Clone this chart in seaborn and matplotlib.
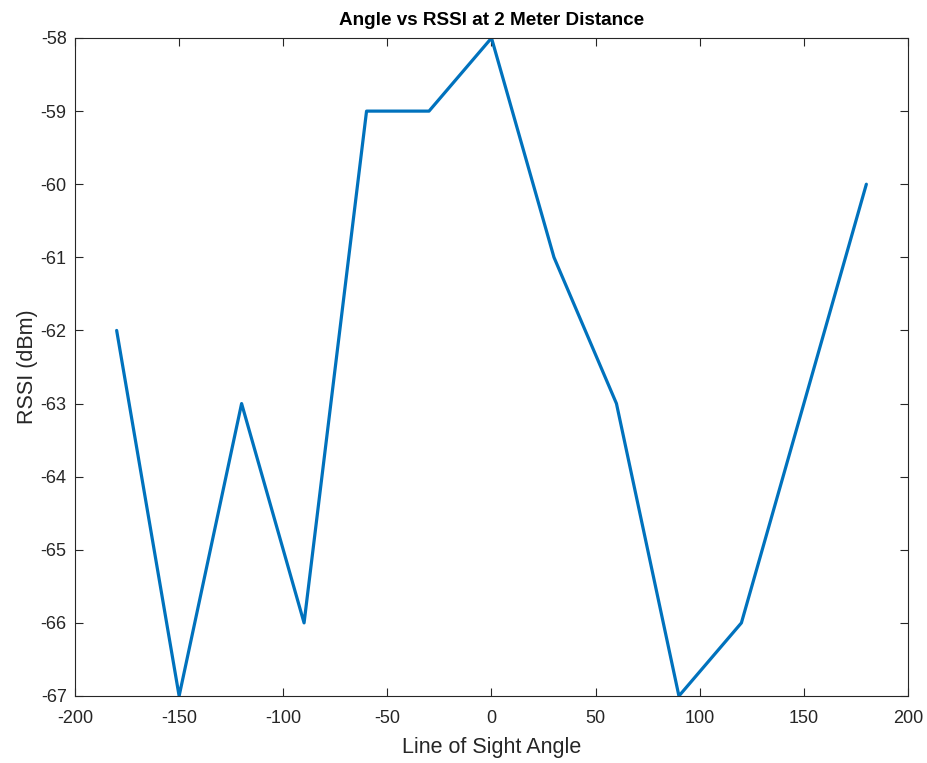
import matplotlib
matplotlib.use("Agg")
import matplotlib.pyplot as plt
import seaborn as sns
import pandas as pd

angles = [-180, -150, -120, -90, -60, -30, 0, 30, 60, 90, 120, 180]
rssi = [-62, -67, -63, -66, -59, -59, -58, -61, -63, -67, -66, -60]
xticks = [-200, -150, -100, -50, 0, 50, 100, 150, 200]
yticks = [-67, -66, -65, -64, -63, -62, -61, -60, -59, -58]

sns.set_style("white")
plt.rcParams['font.family'] = ['Liberation Sans', 'DejaVu Sans']

df = pd.DataFrame({"angle": angles, "rssi": rssi})

fig = plt.figure(figsize=(9.28, 7.63), dpi=100)
ax = fig.add_axes([75/928, 1-696/763, (908-75)/928, (696-38)/763])
sns.lineplot(data=df, x="angle", y="rssi", ax=ax, color="#0072BD", linewidth=2.3, sort=False)

ax.set_xlim(-200, 200)
ax.set_ylim(-67, -58)
ax.set_xticks(xticks)
ax.set_yticks(yticks)
ax.set_xticklabels([str(t) for t in xticks], fontsize=13, color="#262626")
ax.set_yticklabels([str(t) for t in yticks], fontsize=13, color="#262626")
ax.tick_params(direction="in", length=6, width=0.8, color="#262626",
               top=True, right=True, bottom=True, left=True)
ax.tick_params(axis="x", pad=10)
ax.tick_params(axis="y", pad=6)
for s in ax.spines.values():
    s.set_visible(True)
    s.set_color("#262626")
    s.set_linewidth(0.8)
ax.set_xlabel("Line of Sight Angle", fontsize=15.5, color="#262626", labelpad=7)
ax.set_ylabel("RSSI (dBm)", fontsize=15.5, color="#262626", labelpad=2)
ax.set_title("Angle vs RSSI at 2 Meter Distance", fontsize=13.6, fontweight="bold", color="black", pad=9)

fig.savefig("out.png", dpi=100)
